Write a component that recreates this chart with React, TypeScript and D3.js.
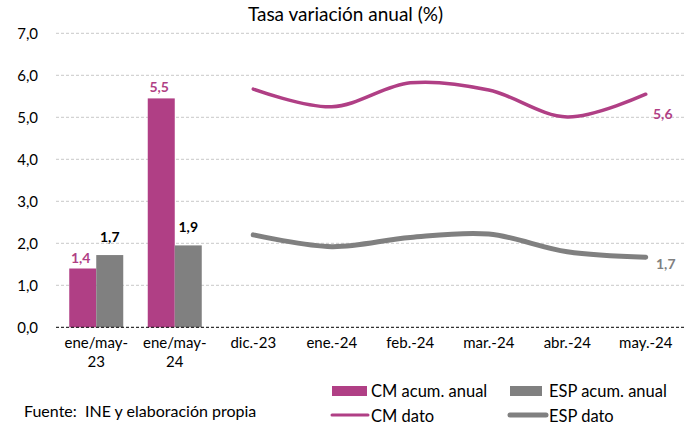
import React from "react";
import * as d3 from "d3";

const categories = ["ene/may-23", "ene/may-24", "dic.-23", "ene.-24", "feb.-24", "mar.-24", "abr.-24", "may.-24"];
const barCategories = ["ene/may-23", "ene/may-24"];
const cmAcum = [1.4, 5.45];
const espAcum = [1.72, 1.95];
const cmAcumLabels = ["1,4", "5,5"];
const espAcumLabels = ["1,7", "1,9"];
const lineCategories = ["dic.-23", "ene.-24", "feb.-24", "mar.-24", "abr.-24", "may.-24"];
const cmDato = [5.67, 5.25, 5.82, 5.65, 5.01, 5.55];
const espDato = [2.2, 1.92, 2.14, 2.22, 1.8, 1.67];
const cmDatoLast = "5,6";
const espDatoLast = "1,7";
const yTicks = [0, 1, 2, 3, 4, 5, 6, 7];

const CM = "#B03F85";
const ESP = "#808080";
const FONT = "Lato, 'Open Sans', sans-serif";

export default function App() {
  const W = 691, H = 426;
  const x = d3.scaleBand<string>().domain(categories).range([57, 685]).padding(0);
  const y = d3.scaleLinear().domain([0, 7]).range([327.3, 33.3]);
  const sub = d3.scaleBand<string>().domain(["cm", "esp"]).range([0, x.bandwidth()]).paddingInner(0).paddingOuter(0.4537);
  const cx = (c: string) => (x(c) as number) + x.bandwidth() / 2;
  const line = d3.line<number>().x((_, i) => cx(lineCategories[i])).y((d) => y(d)).curve(d3.curveCatmullRom.alpha(0.5));
  const fmt = (v: number) => d3.format(".1f")(v).replace(".", ",");
  const splitLabel = (c: string) => {
    const m = c.match(/^(ene\/may-)(\d+)$/);
    return m ? [m[1], m[2]] : [c];
  };
  const lastI = lineCategories.length - 1;

  return (
    <svg width={W} height={H} style={{ display: "block", position: "absolute", left: 0, top: 0 }} fontFamily={FONT}>
      <rect width={W} height={H} fill="#fff" />
      <text x={345.5} y={20.5} textAnchor="middle" fontSize={19} fill="#000">Tasa variación anual (%)</text>
      {yTicks.map((t) => (
        <g key={t}>
          {t > 0 && <line x1={56} x2={685} y1={y(t)} y2={y(t)} stroke="#c8c8c8" strokeWidth={1} strokeDasharray="3,2" />}
          <text x={38} y={y(t) + 5.5} textAnchor="end" fontSize={15} fill="#000">{fmt(t)}</text>
        </g>
      ))}
      {barCategories.map((c, i) => (
        <g key={c} transform={`translate(${x(c)},0)`}>
          <rect x={sub("cm")} y={y(cmAcum[i])} width={sub.bandwidth()} height={y(0) - y(cmAcum[i])} fill={CM} />
          <rect x={sub("esp")} y={y(espAcum[i])} width={sub.bandwidth()} height={y(0) - y(espAcum[i])} fill={ESP} />
          <text x={(sub("cm") as number) + sub.bandwidth() / 2 - 2} y={y(cmAcum[i]) - 6} textAnchor="middle" fontSize={14} fontWeight="bold" fill={CM}>{cmAcumLabels[i]}</text>
          <text x={(sub("esp") as number) + sub.bandwidth() / 2} y={y(espAcum[i]) - 13} textAnchor="middle" fontSize={14} fontWeight="bold" fill="#000">{espAcumLabels[i]}</text>
        </g>
      ))}
      <line x1={56} x2={685} y1={y(0)} y2={y(0)} stroke="#000" strokeWidth={1} strokeDasharray="3,2" />
      <path d={line(espDato) || ""} fill="none" stroke={ESP} strokeWidth={5} strokeLinecap="round" />
      <path d={line(cmDato) || ""} fill="none" stroke={CM} strokeWidth={3.5} strokeLinecap="round" />
      <text x={cx(lineCategories[lastI]) + 17} y={y(cmDato[lastI]) + 25} textAnchor="middle" fontSize={14} fontWeight="bold" fill={CM}>{cmDatoLast}</text>
      <text x={cx(lineCategories[lastI]) + 20} y={y(espDato[lastI]) + 12} textAnchor="middle" fontSize={14} fontWeight="bold" fill={ESP}>{espDatoLast}</text>
      {categories.map((c) => (
        <text key={c} x={cx(c)} y={347.5} textAnchor="middle" fontSize={15} fill="#000">
          {splitLabel(c).map((s, j) => (
            <tspan key={j} x={cx(c)} dy={j === 0 ? 0 : 19}>{s}</tspan>
          ))}
        </text>
      ))}
      <rect x={332} y={386} width={35} height={10} fill={CM} />
      <text x={371} y={396.5} fontSize={16.5} fill="#000">CM acum. anual</text>
      <rect x={510} y={386} width={32} height={10} fill={ESP} />
      <text x={549} y={396.5} fontSize={16.5} fill="#000">ESP acum. anual</text>
      <line x1={332} x2={368} y1={415} y2={415} stroke={CM} strokeWidth={3} strokeLinecap="round" />
      <text x={371} y={421.5} fontSize={16.5} fill="#000">CM dato</text>
      <line x1={510} x2={546} y1={415} y2={415} stroke={ESP} strokeWidth={5} strokeLinecap="round" />
      <text x={549} y={421.5} fontSize={16.5} fill="#000">ESP dato</text>
      <text x={24} y={417} fontSize={16} fill="#000" style={{ whiteSpace: "pre" }}>{"Fuente:  INE y elaboración propia"}</text>
    </svg>
  );
}
